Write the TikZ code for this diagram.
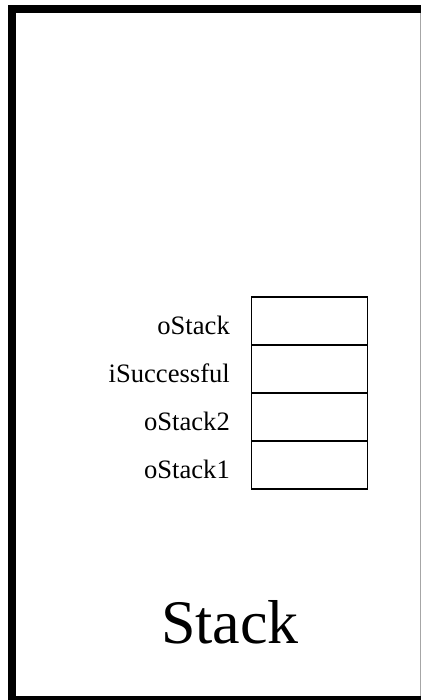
\documentclass[tikz,border=0pt]{standalone}
\usepackage{fontspec}
\setmainfont{Liberation Serif}
\begin{document}
\begin{tikzpicture}[x=1pt,y=1pt,
  cell/.style={draw=black,line width=1.5pt,minimum width=116pt,minimum height=48pt,inner sep=0pt,outer sep=0pt},
  lbl/.style={anchor=base east,inner sep=0pt,font=\fontsize{26.6}{30}\selectfont},
  title/.style={anchor=base,inner sep=0pt,font=\fontsize{62}{70}\selectfont}]
\useasboundingbox (0,0) rectangle (421,-700);
% frame
\fill[black] (8,-5) rectangle (421,-13);
\fill[black] (8,-5) rectangle (16,-700);
\fill[black] (8,-696) rectangle (421,-700);
\draw[gray!70,line width=1pt] (420.5,-13) -- (420.5,-696);
% cells
\node[cell] (c1) at (309.7,-321) {};
\node[cell] (c2) at (309.7,-369) {};
\node[cell] (c3) at (309.7,-417) {};
\node[cell] (c4) at (309.7,-465) {};
% labels
\node[lbl] (l1) at (230,-334) {oStack};
\node[lbl] (l2) at (230,-382) {iSuccessful};
\node[lbl] (l3) at (230,-430) {oStack2};
\node[lbl] (l4) at (230,-478) {oStack1};
\node[title] (t) at (230,-643) {Stack};
\end{tikzpicture}
\end{document}
